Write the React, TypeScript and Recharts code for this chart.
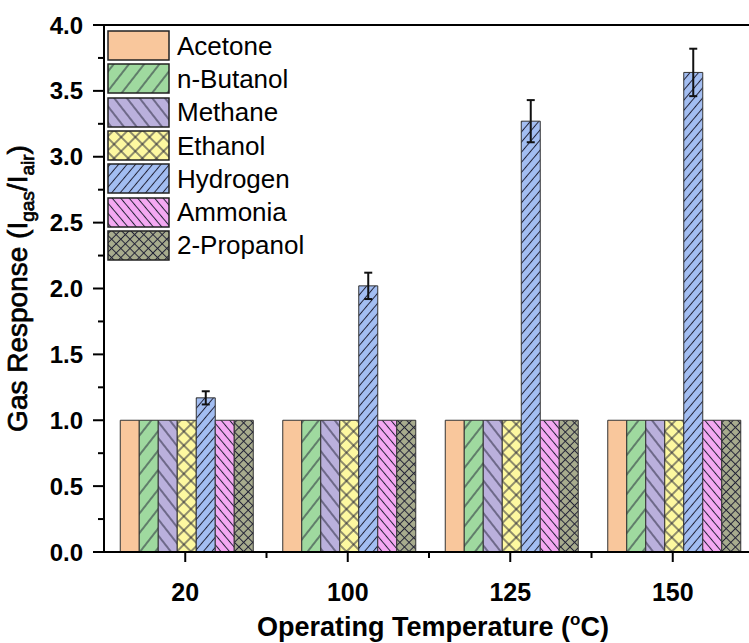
import { Bar, BarChart, ErrorBar, Legend, ReferenceLine, XAxis, YAxis } from "recharts";

const temperatures = ["20", "100", "125", "150"];
const acetone = [1, 1, 1, 1];
const nButanol = [1, 1, 1, 1];
const methane = [1, 1, 1, 1];
const ethanol = [1, 1, 1, 1];
const hydrogen = [1.17, 2.02, 3.27, 3.64];
const hydrogenError = [0.05, 0.1, 0.16, 0.18];
const ammonia = [1, 1, 1, 1];
const propanol = [1, 1, 1, 1];
const yTicks = [0, 0.25, 0.5, 0.75, 1, 1.25, 1.5, 1.75, 2, 2.25, 2.5, 2.75, 3, 3.25, 3.5, 3.75, 4];

const font = "'Liberation Sans', Arial, sans-serif";

// fill + hatch per gas
const gases = [
    { key: "acetone", name: "Acetone", values: acetone, color: "#f9c79c", gap: 0, angle: 0, cross: false },
    { key: "nButanol", name: "n-Butanol", values: nButanol, color: "#9fd99f", gap: 12, angle: 38, cross: false },
    { key: "methane", name: "Methane", values: methane, color: "#bab0dc", gap: 10, angle: -38, cross: false },
    { key: "ethanol", name: "Ethanol", values: ethanol, color: "#fdf8a0", gap: 10, angle: 45, cross: true },
    { key: "hydrogen", name: "Hydrogen", values: hydrogen, color: "#a3bef2", gap: 6.5, angle: 40, cross: false },
    { key: "ammonia", name: "Ammonia", values: ammonia, color: "#f4a9f2", gap: 6.5, angle: -40, cross: false },
    { key: "propanol", name: "2-Propanol", values: propanol, color: "#a8ac8e", gap: 6.5, angle: 45, cross: true },
];

const rows = temperatures.map((t, i) => {
    const row: Record<string, string | number> = { temp: t, hydrogenError: hydrogenError[i] };
    gases.forEach((g) => {
        row[g.key] = g.values[i];
    });
    return row;
});

const fillOf = (g: (typeof gases)[number]) => (g.gap ? `url(#hatch-${g.key})` : g.color);

const YTick = (props: any) => {
    const { x, y, payload } = props;
    const major = Number.isInteger(payload.value * 2);
    return (
        <g>
            <line x1={x - (major ? 11 : 6)} x2={x} y1={y} y2={y} stroke="#000" strokeWidth={2} />
            {major && (
                <text x={x - 21} y={y + 8.5} textAnchor="end" fontSize={24} fontWeight="bold" fontFamily={font} fill="#000">
                    {payload.value.toFixed(1)}
                </text>
            )}
        </g>
    );
};

const XTick = (props: any) => {
    const { x, y, payload, width, visibleTicksCount } = props;
    const half = payload.offset || width / visibleTicksCount / 2;
    return (
        <g>
            <line x1={x} x2={x} y1={y} y2={y + 10} stroke="#000" strokeWidth={2} />
            <line x1={x + half} x2={x + half} y1={y} y2={y + 6} stroke="#000" strokeWidth={2} />
            <text x={x} y={y + 49} textAnchor="middle" fontSize={25} fontWeight="bold" fontFamily={font} fill="#000">
                {payload.value}
            </text>
        </g>
    );
};

const YTitle = (props: any) => {
    const { viewBox } = props;
    const cx = viewBox.x + 27;
    const cy = viewBox.y + viewBox.height / 2;
    return (
        <text
            x={cx}
            y={cy}
            transform={`rotate(-90 ${cx} ${cy})`}
            textAnchor="middle"
            fontSize={28}
            fontFamily={font}
            fill="#000"
            stroke="#000"
            strokeWidth={0.7}
        >
            Gas Response (I
            <tspan fontSize={19} dy={7}>gas</tspan>
            <tspan dy={-7}>/I</tspan>
            <tspan fontSize={19} dy={7}>air</tspan>
            <tspan dy={-7}>)</tspan>
        </text>
    );
};

const XTitle = (props: any) => {
    const { viewBox } = props;
    return (
        <text x={viewBox.x + viewBox.width / 2 + 4} y={viewBox.y + 84} textAnchor="middle" fontSize={27} fontWeight="bold" fontFamily={font} fill="#000">
            Operating Temperature (
            <tspan fontSize={17} dy={-11}>o</tspan>
            <tspan dy={11}>C)</tspan>
        </text>
    );
};

const LegendContent = () => (
    <div style={{ fontFamily: font }}>
        {gases.map((g) => (
            <div key={g.key} style={{ display: "flex", alignItems: "center", height: 33.3 }}>
                <svg width={63} height={31} style={{ display: "block" }}>
                    <rect x={1} y={1} width={61} height={29} fill={fillOf(g)} stroke="#222" strokeWidth={1.5} />
                </svg>
                <span style={{ marginLeft: 7, fontSize: 26, lineHeight: "30px", color: "#000", whiteSpace: "nowrap" }}>{g.name}</span>
            </div>
        ))}
    </div>
);

export default function App() {
    return (
        <div style={{ position: "fixed", left: 0, top: 0, width: 749, height: 643, overflow: "hidden", background: "#fff" }}>
            <BarChart
                width={760}
                height={643}
                data={rows}
                margin={{ top: 25, right: 6, bottom: 0, left: 0 }}
                barCategoryGap="10%"
                barGap={0}
            >
                <defs>
                    {gases
                        .filter((g) => g.gap)
                        .map((g) => (
                            <pattern
                                key={g.key}
                                id={`hatch-${g.key}`}
                                patternUnits="userSpaceOnUse"
                                width={g.gap}
                                height={g.gap}
                                patternTransform={`rotate(${g.angle})`}
                            >
                                <rect width={g.gap} height={g.gap} fill={g.color} />
                                <line x1={g.gap / 2} x2={g.gap / 2} y1={0} y2={g.gap} stroke="#222236" strokeWidth={1} />
                                {g.cross && (
                                    <line x1={0} x2={g.gap} y1={g.gap / 2} y2={g.gap / 2} stroke="#222236" strokeWidth={1} />
                                )}
                            </pattern>
                        ))}
                </defs>
                <XAxis
                    dataKey="temp"
                    height={91}
                    tickSize={0}
                    tickMargin={0}
                    tickLine={false}
                    axisLine={{ stroke: "#000", strokeWidth: 2 }}
                    tick={<XTick />}
                    interval={0}
                    label={<XTitle />}
                />
                <YAxis
                    type="number"
                    domain={[0, 4]}
                    ticks={yTicks}
                    width={104}
                    tickSize={0}
                    tickMargin={0}
                    tickLine={false}
                    axisLine={{ stroke: "#000", strokeWidth: 2 }}
                    tick={<YTick />}
                    interval={0}
                    label={<YTitle />}
                />
                <ReferenceLine y={4} stroke="#000" strokeWidth={2} />
                <Legend
                    layout="vertical"
                    align="center"
                    verticalAlign="middle"
                    content={<LegendContent />}
                    wrapperStyle={{ left: 107, top: 29, width: "auto", height: "auto" }}
                />
                {gases.map((g) => (
                    <Bar
                        key={g.key}
                        dataKey={g.key}
                        name={g.name}
                        fill={fillOf(g)}
                        stroke="#333"
                        strokeWidth={1}
                        isAnimationActive={false}
                    >
                        {g.key === "hydrogen" && (
                            <ErrorBar dataKey="hydrogenError" direction="y" width={4} stroke="#111" strokeWidth={2} />
                        )}
                    </Bar>
                ))}
            </BarChart>
        </div>
    );
}
